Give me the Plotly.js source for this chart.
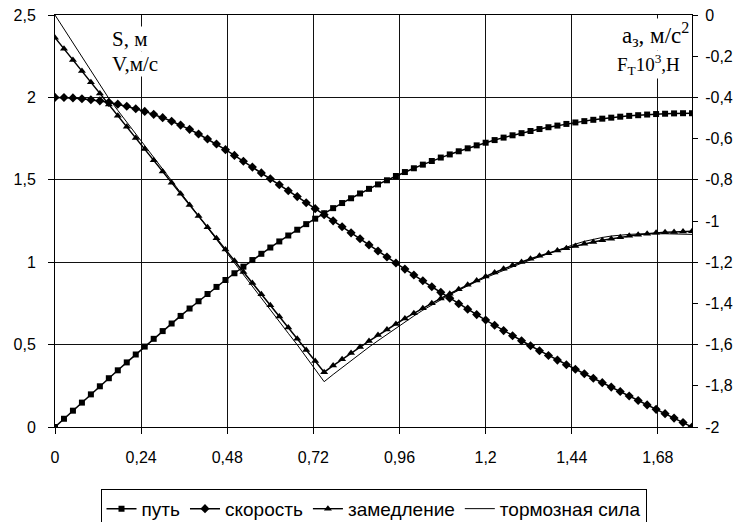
<!DOCTYPE html>
<html>
<head>
<meta charset="utf-8">
<script src="https://cdn.plot.ly/plotly-3.0.1.min.js"></script>
<style>html,body{margin:0;padding:0;background:#fff;}#chart{width:744px;height:522px;}</style>
</head>
<body>
<div id="chart"></div>
<script>
// time, s
const tVals = [0,0.025,0.05,0.075,0.1,0.125,0.15,0.175,0.2,0.225,0.25,0.275,0.3,0.325,0.35,0.375,0.4,0.425,0.45,0.475,0.5,0.525,0.55,0.575,0.6,0.625,0.65,0.675,0.7,0.725,0.75,0.775,0.8,0.825,0.85,0.875,0.9,0.925,0.95,0.975,1,1.025,1.05,1.075,1.1,1.125,1.15,1.175,1.2,1.225,1.25,1.275,1.3,1.325,1.35,1.375,1.4,1.425,1.45,1.475,1.5,1.525,1.55,1.575,1.6,1.625,1.65,1.675,1.7,1.725,1.75,1.775];
// путь S, м (left axis)
const pathS = [0,0.050,0.099,0.148,0.198,0.247,0.296,0.344,0.392,0.440,0.488,0.535,0.582,0.628,0.674,0.719,0.763,0.807,0.850,0.892,0.933,0.973,1.013,1.051,1.089,1.126,1.162,1.197,1.231,1.264,1.297,1.328,1.359,1.388,1.417,1.445,1.472,1.497,1.523,1.547,1.570,1.592,1.614,1.635,1.654,1.673,1.691,1.709,1.725,1.741,1.756,1.770,1.783,1.796,1.808,1.819,1.829,1.839,1.848,1.856,1.864,1.871,1.877,1.883,1.888,1.892,1.896,1.899,1.901,1.903,1.904,1.904];
// скорость V, м/с (left axis)
const speedV = [2.000,1.999,1.997,1.992,1.986,1.979,1.970,1.959,1.946,1.931,1.915,1.897,1.877,1.855,1.832,1.806,1.778,1.748,1.717,1.683,1.648,1.613,1.577,1.542,1.506,1.470,1.434,1.398,1.361,1.325,1.288,1.251,1.215,1.178,1.142,1.105,1.068,1.032,0.995,0.958,0.922,0.887,0.851,0.817,0.782,0.748,0.715,0.682,0.649,0.617,0.585,0.554,0.523,0.493,0.463,0.434,0.406,0.378,0.350,0.323,0.296,0.269,0.242,0.215,0.188,0.161,0.134,0.107,0.081,0.054,0.027,0.000];
// замедление a, м/с² (right axis)
const decelA = [-0.110,-0.164,-0.218,-0.272,-0.327,-0.381,-0.435,-0.489,-0.543,-0.597,-0.651,-0.705,-0.760,-0.814,-0.868,-0.922,-0.976,-1.030,-1.084,-1.138,-1.193,-1.247,-1.301,-1.355,-1.409,-1.463,-1.517,-1.571,-1.626,-1.680,-1.734,-1.702,-1.671,-1.641,-1.612,-1.583,-1.554,-1.527,-1.500,-1.473,-1.448,-1.423,-1.399,-1.376,-1.353,-1.331,-1.310,-1.289,-1.269,-1.250,-1.232,-1.215,-1.199,-1.183,-1.169,-1.156,-1.143,-1.132,-1.121,-1.111,-1.102,-1.093,-1.086,-1.079,-1.072,-1.067,-1.062,-1.057,-1.055,-1.053,-1.051,-1.050];
// тормозная сила F·10³, Н (right axis)
const brakeF = [0.000,-0.068,-0.135,-0.203,-0.270,-0.338,-0.405,-0.463,-0.520,-0.578,-0.635,-0.693,-0.750,-0.808,-0.865,-0.923,-0.980,-1.036,-1.093,-1.149,-1.206,-1.262,-1.319,-1.375,-1.432,-1.488,-1.545,-1.601,-1.661,-1.720,-1.780,-1.745,-1.711,-1.678,-1.645,-1.612,-1.581,-1.550,-1.519,-1.489,-1.461,-1.433,-1.407,-1.382,-1.358,-1.336,-1.314,-1.294,-1.275,-1.257,-1.239,-1.222,-1.205,-1.189,-1.173,-1.157,-1.142,-1.127,-1.112,-1.099,-1.088,-1.080,-1.073,-1.068,-1.065,-1.063,-1.062,-1.062,-1.062,-1.063,-1.064,-1.065];

const seriesNames = ['путь','скорость','замедление','тормозная сила'];
const xTickVals = [0,0.24,0.48,0.72,0.96,1.2,1.44,1.68];
const xTickText = ['0','0,24','0,48','0,72','0,96','1,2','1,44','1,68'];
const yTickVals = [0,0.5,1,1.5,2,2.5];
const yTickText = ['0','0,5','1','1,5','2','2,5'];
const y2TickVals = [0,-0.2,-0.4,-0.6,-0.8,-1,-1.2,-1.4,-1.6,-1.8,-2];
const y2TickText = ['0','-0,2','-0,4','-0,6','-0,8','-1','-1,2','-1,4','-1,6','-1,8','-2'];

const sans = 'Liberation Sans, Arial, sans-serif';
const serif = 'Liberation Serif, Times New Roman, serif';

const traces = [
  {x: tVals, y: pathS, name: seriesNames[0], type: 'scatter', mode: 'lines+markers',
   line: {color: '#000', width: 1.5}, marker: {symbol: 'square', size: 6, color: '#000'}},
  {x: tVals, y: speedV, name: seriesNames[1], type: 'scatter', mode: 'lines+markers',
   line: {color: '#000', width: 1.5}, marker: {symbol: 'diamond', size: 7, color: '#000'}},
  {x: tVals, y: decelA, name: seriesNames[2], type: 'scatter', mode: 'lines+markers', yaxis: 'y2',
   line: {color: '#000', width: 1.5}, marker: {symbol: 'triangle-up', size: 7, color: '#000'}},
  {x: tVals, y: brakeF, name: seriesNames[3], type: 'scatter', mode: 'lines', yaxis: 'y2',
   line: {color: '#000', width: 1}}
];

const gridC = '#111';
const layout = {
  width: 744, height: 522,
  margin: {l: 55, r: 52, t: 15, b: 95, pad: 0, autoexpand: false},
  paper_bgcolor: '#fff', plot_bgcolor: '#fff',
  font: {family: sans, size: 16, color: '#000'},
  showlegend: true,
  xaxis: {range: [0, 1.775], tickvals: xTickVals, ticktext: xTickText,
    showgrid: true, gridcolor: gridC, gridwidth: 1, zeroline: false,
    showline: true, mirror: true, linecolor: '#000', linewidth: 1,
    ticks: 'outside', ticklen: 6, tickcolor: '#000', ticklabelstandoff: 10,
    tickfont: {family: sans, size: 16, color: '#000'}},
  yaxis: {range: [0, 2.5], tickvals: yTickVals, ticktext: yTickText,
    showgrid: true, gridcolor: gridC, gridwidth: 1, zeroline: false,
    showline: true, linecolor: '#000', linewidth: 1,
    ticks: 'outside', ticklen: 6, tickcolor: '#000', ticklabelstandoff: 9,
    tickfont: {family: sans, size: 16, color: '#000'}},
  yaxis2: {range: [-2, 0], overlaying: 'y', side: 'right', tickvals: y2TickVals, ticktext: y2TickText,
    showgrid: false, zeroline: false, showline: true, linecolor: '#000', linewidth: 1,
    ticks: 'outside', ticklen: 5, tickcolor: '#000', ticklabelstandoff: 4,
    tickfont: {family: sans, size: 16, color: '#000'}},
  yaxis3: {range: [-2, 0], overlaying: 'y', side: 'right', tickvals: y2TickVals,
    showticklabels: false, showgrid: false, zeroline: false, showline: false,
    ticks: 'inside', ticklen: 5, tickcolor: '#000'},
  legend: {orientation: 'h', x: 0.5, xanchor: 'center', y: -0.15, yanchor: 'top',
    bgcolor: '#fff', bordercolor: '#000', borderwidth: 1,
    font: {family: sans, size: 19, color: '#000'}, itemwidth: 30},
  annotations: [
    {xref: 'paper', yref: 'paper', x: 0.088, y: 0.942, xanchor: 'left', yanchor: 'middle', showarrow: false,
     text: 'S, м', font: {family: serif, size: 21, color: '#000'}, bgcolor: '#fff', borderpad: 0},
    {xref: 'paper', yref: 'paper', x: 0.088, y: 0.882, xanchor: 'left', yanchor: 'middle', showarrow: false,
     text: 'V,м/с', font: {family: serif, size: 21, color: '#000'}, bgcolor: '#fff', borderpad: 0},
    {xref: 'paper', yref: 'paper', x: 0.997, y: 0.952, xanchor: 'right', yanchor: 'middle', showarrow: false,
     text: 'a<sub>з</sub>, м/с<sup>2</sup>', font: {family: serif, size: 23, color: '#000'}, bgcolor: '#fff', borderpad: 0},
    {xref: 'paper', yref: 'paper', x: 0.982, y: 0.880, xanchor: 'right', yanchor: 'middle', showarrow: false,
     text: 'F<sub>T</sub>10<sup>3</sup>,H', font: {family: serif, size: 19, color: '#000'}, bgcolor: '#fff', borderpad: 0}
  ]
};

Plotly.newPlot('chart', traces, layout, {staticPlot: true, displayModeBar: false});
</script>
</body>
</html>
